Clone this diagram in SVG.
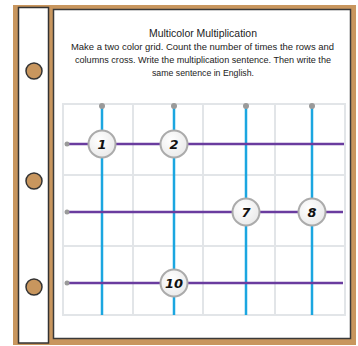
<svg xmlns="http://www.w3.org/2000/svg" width="358" height="346" viewBox="0 0 358 346">
<defs>
<radialGradient id="cg" cx="0.4" cy="0.35" r="0.7">
<stop offset="0" stop-color="#ffffff"/>
<stop offset="1" stop-color="#e9e9e9"/>
</radialGradient>
</defs>
<style>
.txt{font-family:"Liberation Sans","DejaVu Sans",sans-serif;fill:#222;}
.grid{stroke:#e2e5e8;stroke-width:2;fill:none;}
.blue{stroke:#1ba6e0;stroke-width:2.5;}
.purple{stroke:#6a3c9f;stroke-width:2.5;}
.dot{fill:#9a9a9a;}
.hole{fill:#c8965e;stroke:#333;stroke-width:1.5;}
.node circle{fill:url(#cg);stroke:#ababab;stroke-width:2;}
.node text{font-family:"DejaVu Sans","Liberation Sans",sans-serif;font-style:italic;font-weight:bold;font-size:13px;fill:#111;text-anchor:middle;}
</style>
<rect x="13" y="5" width="343" height="340" fill="#c8965e"/>
<rect x="18.5" y="7.5" width="30" height="335.5" fill="#fff" stroke="#333" stroke-width="1.5"/>
<rect x="53.5" y="9.5" width="297" height="329" fill="#fff" stroke="#3a3a3a" stroke-width="1.5"/>
<circle class="hole" cx="34" cy="71" r="8"/>
<circle class="hole" cx="34" cy="181" r="8"/>
<circle class="hole" cx="34" cy="287" r="8"/>
<text class="txt" x="203" y="37" font-size="10.5" text-anchor="middle" textLength="108" lengthAdjust="spacingAndGlyphs">Multicolor Multiplication</text>
<text class="txt" x="71" y="50" font-size="9.5" textLength="263" lengthAdjust="spacingAndGlyphs">Make a two color grid. Count the number of times the rows and</text>
<text class="txt" x="75" y="63" font-size="9.5" textLength="256" lengthAdjust="spacingAndGlyphs">columns cross. Write the multiplication sentence. Then write the</text>
<text class="txt" x="152" y="76" font-size="9.5" textLength="102" lengthAdjust="spacingAndGlyphs">same sentence in English.</text>
<g id="grid">
<rect class="grid" x="63" y="104" width="282" height="211"/>
<line class="grid" x1="133" y1="104" x2="133" y2="315"/>
<line class="grid" x1="203" y1="104" x2="203" y2="315"/>
<line class="grid" x1="275" y1="104" x2="275" y2="315"/>
<line class="grid" x1="63" y1="175" x2="345" y2="175"/>
<line class="grid" x1="63" y1="246" x2="345" y2="246"/>
</g>
<g id="connectors">
<line class="blue" x1="102" y1="106" x2="102" y2="315"/>
<line class="blue" x1="174" y1="106" x2="174" y2="315"/>
<line class="blue" x1="246" y1="106" x2="246" y2="315"/>
<line class="blue" x1="312" y1="106" x2="312" y2="315"/>
<circle class="dot" cx="102" cy="106" r="3"/>
<circle class="dot" cx="174" cy="106" r="3"/>
<circle class="dot" cx="246" cy="106" r="3"/>
<circle class="dot" cx="312" cy="106" r="3"/>
<line class="purple" x1="67" y1="144" x2="344" y2="144"/>
<line class="purple" x1="67" y1="212" x2="343" y2="212"/>
<line class="purple" x1="67" y1="283" x2="343" y2="283"/>
<circle class="dot" cx="67" cy="144" r="2.5"/>
<circle class="dot" cx="67" cy="212" r="2.5"/>
<circle class="dot" cx="67" cy="283" r="2.5"/>
</g>
<g id="n1" class="node"><circle cx="102" cy="144" r="13.5"/><text x="102" y="149">1</text></g>
<g id="n2" class="node"><circle cx="174" cy="144" r="13.5"/><text x="174" y="149">2</text></g>
<g id="n7" class="node"><circle cx="246" cy="212" r="13.5"/><text x="246" y="217">7</text></g>
<g id="n8" class="node"><circle cx="312" cy="212" r="13.5"/><text x="312" y="217">8</text></g>
<g id="n10" class="node"><circle cx="174" cy="283" r="13.5"/><text x="174" y="288">10</text></g>
</svg>
